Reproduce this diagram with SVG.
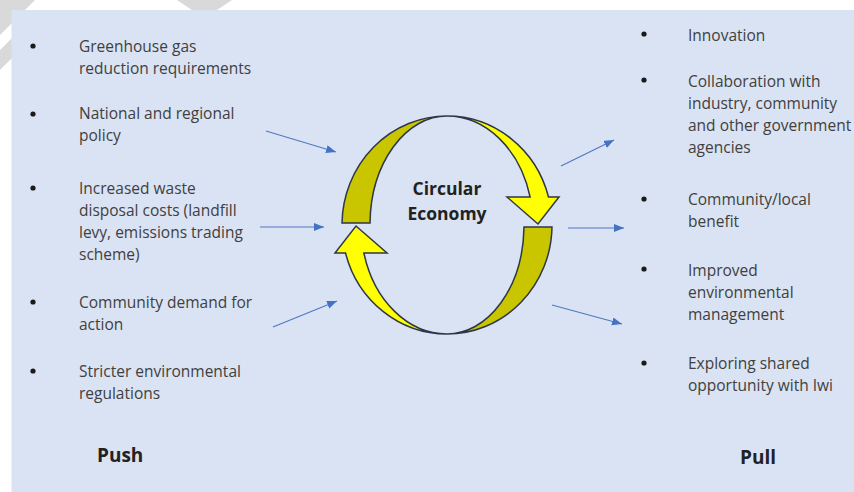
<svg xmlns="http://www.w3.org/2000/svg" width="854" height="492" viewBox="0 0 854 492">
  <style>
    .item { font-family: "Open Sans", "Liberation Sans", sans-serif; font-size: 15.5px; fill: #404040; }
    .title { font-family: "Open Sans", "Liberation Sans", sans-serif; font-weight: bold; fill: #222222; }
    .bullet { fill: #1a1a1a; }
    .conn { stroke: #4f79c6; stroke-width: 1.2; fill: none; marker-end: url(#ah); }
    .ring { stroke: #2d3748; stroke-width: 1.5; stroke-linejoin: miter; }
    .bright { fill: #ffff00; }
    .dark { fill: #c9c600; }
    .wm { fill: #d9d9d9; }
  </style>
  <defs>
    <marker id="ah" markerUnits="userSpaceOnUse" markerWidth="11" markerHeight="9" refX="10" refY="4" orient="auto">
      <path d="M0,0 L10,4 L0,8 Z" fill="#4472c4"/>
    </marker>
  </defs>

  <rect x="0" y="0" width="854" height="492" fill="#ffffff"/>
  <g id="watermark">
    <polygon class="wm" points="0,0 35,0 0,35"/>
    <polygon class="wm" points="0,50 12,38 12,58 0,70"/>
    <polygon class="wm" points="177,0 232,0 214,12 195,12"/>
  </g>
  <rect id="panel" x="11.5" y="10" width="843" height="482" fill="#dae3f3"/>

  <g id="push-list">
    <circle class="bullet" cx="33" cy="46" r="2.6"/>
    <text class="item" x="79" y="52">Greenhouse gas</text>
    <text class="item" x="79" y="74">reduction requirements</text>
    <circle class="bullet" cx="33" cy="114" r="2.6"/>
    <text class="item" x="79" y="119">National and regional</text>
    <text class="item" x="79" y="141">policy</text>
    <circle class="bullet" cx="33" cy="188" r="2.6"/>
    <text class="item" x="79" y="194">Increased waste</text>
    <text class="item" x="79" y="216">disposal costs (landfill</text>
    <text class="item" x="79" y="238">levy, emissions trading</text>
    <text class="item" x="79" y="260">scheme)</text>
    <circle class="bullet" cx="33" cy="302" r="2.6"/>
    <text class="item" x="79" y="308">Community demand for</text>
    <text class="item" x="79" y="330">action</text>
    <circle class="bullet" cx="33" cy="371" r="2.6"/>
    <text class="item" x="79" y="377">Stricter environmental</text>
    <text class="item" x="79" y="399">regulations</text>
  </g>
  <g id="push-label">
    <text class="title" x="97" y="462" font-size="19">Push</text>
  </g>

  <g id="pull-list">
    <circle class="bullet" cx="644" cy="34" r="2.6"/>
    <text class="item" x="688" y="41">Innovation</text>
    <circle class="bullet" cx="644" cy="80" r="2.6"/>
    <text class="item" x="688" y="87">Collaboration with</text>
    <text class="item" x="688" y="109">industry, community</text>
    <text class="item" x="688" y="131">and other government</text>
    <text class="item" x="688" y="153">agencies</text>
    <circle class="bullet" cx="644" cy="199" r="2.6"/>
    <text class="item" x="688" y="205">Community/local</text>
    <text class="item" x="688" y="227">benefit</text>
    <circle class="bullet" cx="644" cy="269" r="2.6"/>
    <text class="item" x="688" y="276">Improved</text>
    <text class="item" x="688" y="298">environmental</text>
    <text class="item" x="688" y="320">management</text>
    <circle class="bullet" cx="644" cy="363" r="2.6"/>
    <text class="item" x="688" y="369">Exploring shared</text>
    <text class="item" x="688" y="391">opportunity with Iwi</text>
  </g>
  <g id="pull-label">
    <text class="title" x="740" y="464" font-size="19">Pull</text>
  </g>

  <g id="circular-economy">
    <path class="ring dark" d="M447,116 A105,109 0 0 0 342,223 L370,223 A77,109 0 0 1 447,116 Z"/>
    <path class="ring bright" d="M447,116 A105,109 0 0 1 548.5,197 L559,197 L538,224 L507,197 L530.1,197 A86,109 0 0 0 447,116 Z"/>
    <path class="ring dark" d="M447,334 A105,109 0 0 0 552,227 L524,227 A77,109 0 0 1 447,334 Z"/>
    <path class="ring bright" d="M447,334 A105,109 0 0 1 345.5,253 L335,253 L356,226 L387,253 L363.9,253 A86,109 0 0 0 447,334 Z"/>
    <text class="title" x="447" y="195" font-size="17.5" text-anchor="middle">Circular</text>
    <text class="title" x="447" y="220" font-size="17.5" text-anchor="middle">Economy</text>
  </g>

  <g id="connectors">
    <line class="conn" x1="266" y1="131" x2="336" y2="152"/>
    <line class="conn" x1="260" y1="227" x2="324" y2="227"/>
    <line class="conn" x1="273" y1="327" x2="337" y2="301"/>
    <line class="conn" x1="561" y1="166" x2="614" y2="140"/>
    <line class="conn" x1="568" y1="228" x2="624" y2="228"/>
    <line class="conn" x1="552" y1="305" x2="622" y2="324"/>
  </g>
</svg>
